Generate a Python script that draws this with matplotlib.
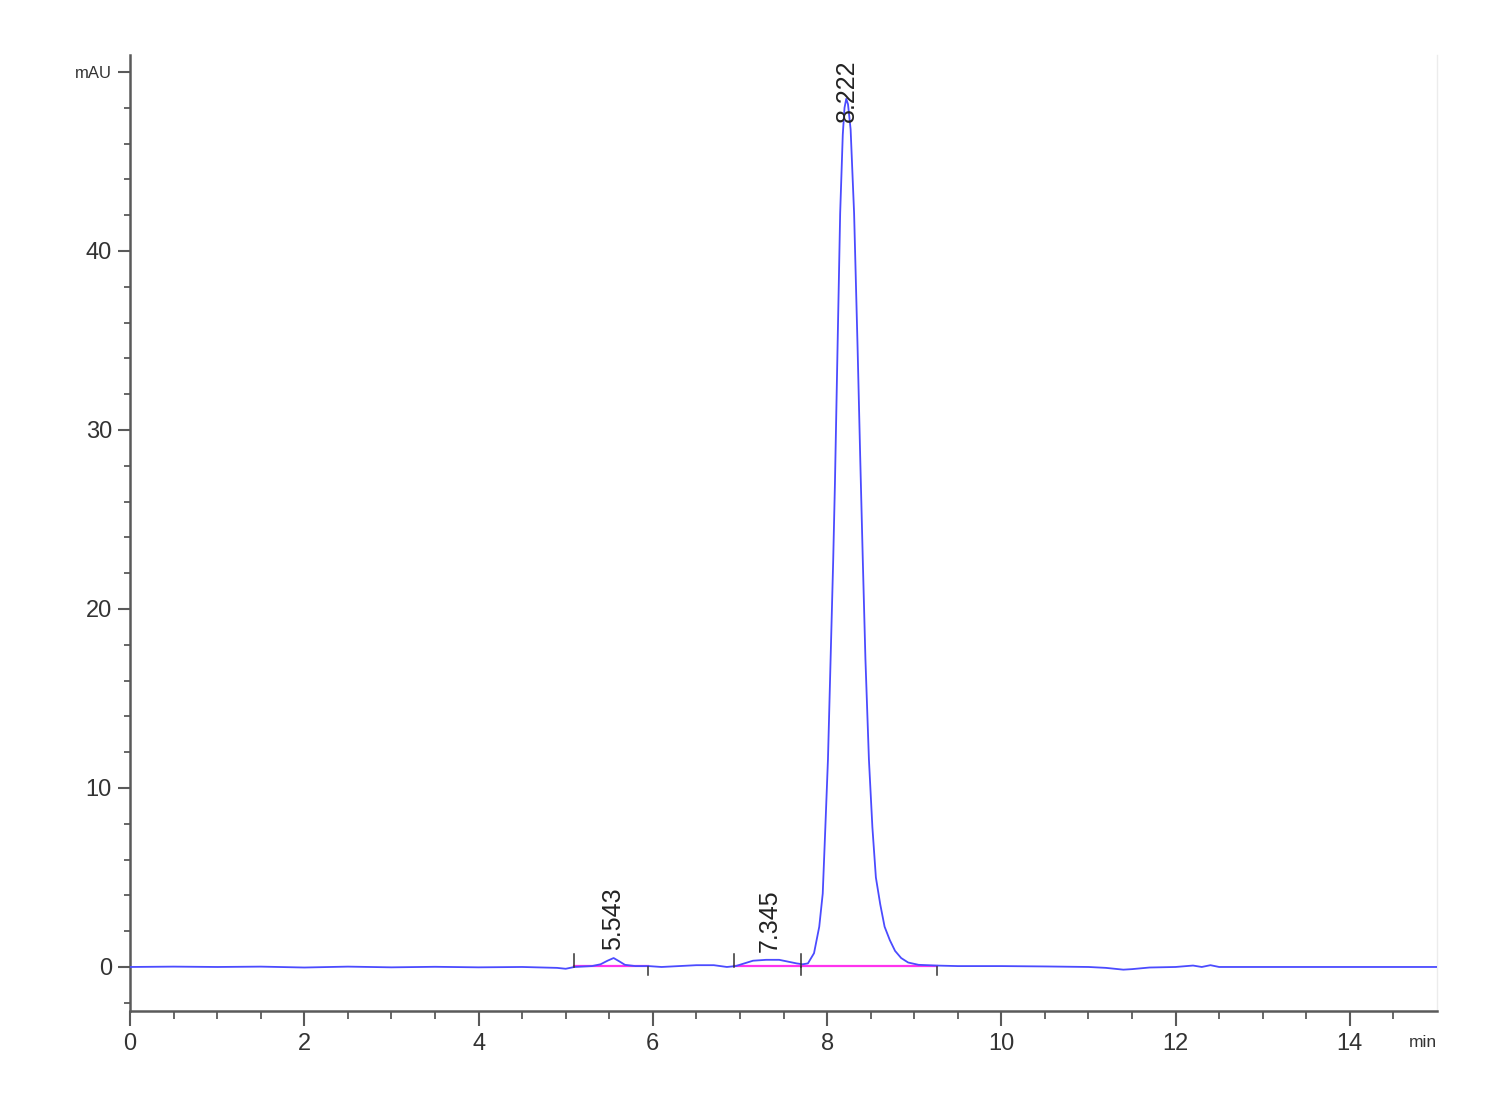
import matplotlib
matplotlib.use("Agg")
import matplotlib.pyplot as plt
from matplotlib import font_manager
from matplotlib.ticker import MultipleLocator, FixedLocator

# retention time [min] and signal [mAU]
time_min = [0.0, 0.5, 1.0, 1.5, 2.0, 2.5, 3.0, 3.5, 4.0, 4.5, 4.9, 5.0,
            5.1, 5.3, 5.4, 5.48, 5.55, 5.62, 5.68, 5.8, 5.95, 6.1, 6.3,
            6.5, 6.7, 6.85, 6.95, 7.05, 7.15, 7.3, 7.45, 7.55, 7.65, 7.72,
            7.78, 7.85, 7.91, 7.95, 7.98, 8.01, 8.03, 8.05, 8.07, 8.09,
            8.12, 8.15, 8.18, 8.20, 8.22, 8.24, 8.27, 8.31, 8.35, 8.38,
            8.41, 8.44, 8.48, 8.52, 8.56, 8.61, 8.66, 8.72, 8.78, 8.85,
            8.93, 9.05, 9.25, 9.5, 10.0, 10.5, 11.0, 11.2, 11.4, 11.5,
            11.7, 12.0, 12.2, 12.3, 12.4, 12.5, 13.0, 14.0, 15.0]
signal_mau = [0.0, 0.02, 0.0, 0.02, -0.03, 0.02, -0.02, 0.01, -0.02, 0.0,
              -0.05, -0.1, 0.0, 0.05, 0.15, 0.35, 0.5, 0.3, 0.12, 0.05,
              0.05, 0.0, 0.05, 0.1, 0.1, 0.0, 0.05, 0.2, 0.35, 0.4, 0.4,
              0.3, 0.2, 0.15, 0.2, 0.77, 2.25, 4.1, 7.8, 11.6, 15.3, 19.0,
              22.7, 27.0, 34.6, 42.1, 46.5, 48.0, 48.5, 48.2, 46.8, 42.1,
              34.6, 28.5, 22.7, 17.2, 11.6, 7.8, 5.0, 3.5, 2.25, 1.5, 0.9,
              0.5, 0.25, 0.12, 0.08, 0.05, 0.05, 0.03, 0.0, -0.05, -0.15,
              -0.12, -0.03, 0.0, 0.08, 0.0, 0.1, 0.0, 0.0, 0.0, 0.0]

# integrated peaks: start, end, label
peak_start = [5.09, 6.93, 7.70]
peak_end = [5.94, 7.70, 9.26]
peak_rt = [5.543, 7.345, 8.222]
peak_label_y = [0.95, 0.85, 47.2]

BLUE = "#4b4bff"
MAGENTA = "#ff33ee"
AXIS = "#5a5a5a"

# narrow face for tick numbers if one is installed
names = {f.name for f in font_manager.fontManager.ttflist}
tick_font = "Liberation Sans"
for cand in ("Liberation Sans Narrow", "Arial Narrow", "DejaVu Sans Condensed"):
    if cand in names:
        tick_font = cand
        break

fig = plt.figure(figsize=(15, 11), dpi=100)
ax = fig.add_axes([0.0867, 0.0809, 0.8713, 0.8691])

ax.plot(time_min, signal_mau, color=BLUE, lw=1.3, zorder=3)

# baseline segments and start/end marks
for s, e in zip(peak_start, peak_end):
    ax.plot([s, e], [0.05, 0.05], color=MAGENTA, lw=1.6, zorder=2)
    ax.plot([s, s], [0.0, 0.7], color="#333333", lw=1.1, zorder=4)
    ax.plot([e, e], [-0.45, 0.0], color="#333333", lw=1.1, zorder=4)

for rt, ly in zip(peak_rt, peak_label_y):
    ax.text(rt, ly, f"{rt:.3f}", rotation=90, ha="center", va="bottom",
            fontsize=18, family="Liberation Sans", color="#222222", zorder=5)

ax.set_xlim(0, 15)
ax.set_ylim(-2.46, 50.95)

xt = [0, 2, 4, 6, 8, 10, 12, 14]
ax.set_xticks(xt, [str(v) for v in xt])
# no minor tick at the very end of the axis (15 min)
ax.xaxis.set_minor_locator(FixedLocator([i * 0.5 for i in range(30)]))
yt = [0, 10, 20, 30, 40, 50]
ax.set_yticks(yt, ["0", "10", "20", "30", "40", "mAU"])
ax.yaxis.set_minor_locator(MultipleLocator(2))

for lab in ax.get_xticklabels() + ax.get_yticklabels():
    lab.set_family(tick_font)
    lab.set_fontsize(17)
    lab.set_color("#333333")
mau = ax.get_yticklabels()[-1]
mau.set_family("Liberation Sans")
mau.set_fontsize(12)

ax.tick_params(axis="x", which="major", length=11, width=1.5, color=AXIS, pad=5)
ax.tick_params(axis="x", which="minor", length=6, width=1.3, color=AXIS)
ax.tick_params(axis="y", which="major", length=9, width=1.5, color=AXIS, pad=4)
ax.tick_params(axis="y", which="minor", length=4.5, width=1.3, color=AXIS)

# unit label sits on the tick-label row at the right end of the axis
ax.annotate("min", xy=(15, 0), xycoords=("data", "axes fraction"),
            xytext=(0, -23), textcoords="offset points",
            ha="right", va="center", fontsize=12.5,
            family="Liberation Sans", color="#333333")

ax.spines["top"].set_visible(False)
ax.spines["right"].set_color("#ececec")
ax.spines["right"].set_linewidth(1.0)
for side in ("left", "bottom"):
    ax.spines[side].set_color(AXIS)
    ax.spines[side].set_linewidth(1.8)

fig.savefig("out.png", dpi=100)
